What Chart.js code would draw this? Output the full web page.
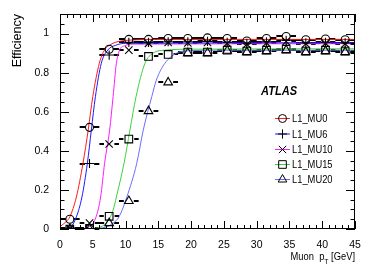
<!DOCTYPE html>
<html>
<head>
<meta charset="utf-8">
<script src="https://cdn.jsdelivr.net/npm/chart.js@4/dist/chart.umd.min.js"></script>
<style>
    html, body { margin: 0; padding: 0; background: #fff; }
    #wrap { width: 374px; height: 273px; }
</style>
</head>
<body>
<div id="wrap"><canvas id="eff-canvas" width="374" height="273"></canvas></div>
<script>
// bin centres (GeV) and half width of the horizontal error bars
var binCenters = [1.5, 4.5, 7.5, 10.5, 13.5, 16.5, 19.5, 22.5, 25.5, 28.5, 31.5, 34.5, 37.5, 40.5, 43.5];
var binHalfWidth = 1.5;

// measured efficiencies per trigger threshold
var effMU0  = [0.05, 0.52, 0.92, 0.97, 0.97, 0.975, 0.975, 0.978, 0.975, 0.962, 0.975, 0.985, 0.968, 0.972, 0.968];
var effMU6  = [0.003, 0.335, 0.89, 0.955, 0.955, 0.958, 0.958, 0.96, 0.955, 0.95, 0.958, 0.965, 0.952, 0.955, 0.952];
var effMU10 = [0.0, 0.03, 0.435, 0.915, 0.95, 0.955, 0.952, 0.955, 0.95, 0.945, 0.952, 0.96, 0.948, 0.95, 0.948];
var effMU15 = [0.0, 0.003, 0.065, 0.46, 0.883, 0.893, 0.905, 0.905, 0.915, 0.91, 0.915, 0.92, 0.91, 0.915, 0.91];
var effMU20 = [0.0, 0.0, 0.03, 0.143, 0.603, 0.75, 0.9, 0.9, 0.912, 0.905, 0.91, 0.915, 0.905, 0.91, 0.905];

// fitted turn-on curves
var fitMU0x  = [0, 0.5, 1.0, 1.5, 2.5, 3.5, 4.3, 5.0, 6.0, 6.8, 7.8, 9.0, 11, 15, 45];
var fitMU0y  = [0.012, 0.025, 0.04, 0.062, 0.164, 0.335, 0.506, 0.677, 0.848, 0.916, 0.945, 0.96, 0.967, 0.97, 0.97];
var fitMU6x  = [0, 1.0, 1.7, 2.5, 3.35, 4.17, 4.78, 5.4, 6.3, 7.3, 8.5, 10, 45];
var fitMU6y  = [0.0, 0.004, 0.012, 0.062, 0.164, 0.335, 0.506, 0.677, 0.848, 0.916, 0.94, 0.95, 0.953];
var fitMU10x = [0, 3.5, 4.5, 5.5, 6.2, 6.8, 7.57, 8.1, 8.6, 9.1, 9.9, 11, 45];
var fitMU10y = [0.0, 0.002, 0.012, 0.062, 0.164, 0.335, 0.506, 0.677, 0.848, 0.916, 0.938, 0.946, 0.948];
var fitMU15x = [0, 5, 7, 8.1, 8.6, 9.76, 10.67, 11.6, 12.96, 14.2, 16, 20, 45];
var fitMU15y = [0.0, 0.003, 0.03, 0.096, 0.164, 0.335, 0.506, 0.677, 0.848, 0.9, 0.915, 0.92, 0.922];
var fitMU20x = [0, 5, 7, 8.1, 9.0, 10.2, 11.7, 12.7, 14, 14.7, 16, 17.8, 19.5, 25, 45];
var fitMU20y = [0.0, 0.002, 0.01, 0.03, 0.062, 0.164, 0.335, 0.506, 0.677, 0.762, 0.848, 0.9, 0.912, 0.915, 0.915];

var seriesNames = ['L1_MU0', 'L1_MU6', 'L1_MU10', 'L1_MU15', 'L1_MU20'];
var seriesColors = ['#ff1a1a', '#1a1aff', '#ff1aff', '#3fd03f', '#6b6bff'];
var seriesMarkers = ['circle', 'cross', 'crossRot', 'rect', 'triangle'];
var markerSizes = [4, 4.6, 5.2, 5.4, 5];

var effs = [effMU0, effMU6, effMU10, effMU15, effMU20];
var fitsX = [fitMU0x, fitMU6x, fitMU10x, fitMU15x, fitMU20x];
var fitsY = [fitMU0y, fitMU6y, fitMU10y, fitMU15y, fitMU20y];

var FONT = "'Liberation Sans', Arial, Helvetica, sans-serif";

function pairs(xs, ys) {
    return xs.map(function (x, i) { return { x: x, y: ys[i] }; });
}

var datasets = [];
seriesNames.forEach(function (name, k) {
    datasets.push({
        label: name,
        isMarker: true,
        data: pairs(binCenters, effs[k]),
        showLine: false,
        pointStyle: seriesMarkers[k],
        pointRadius: markerSizes[k],
        pointBackgroundColor: 'rgba(0,0,0,0)',
        pointBorderColor: '#000',
        pointBorderWidth: 1.1,
        order: 1
    });
});
seriesNames.forEach(function (name, k) {
    datasets.push({
        label: name + ' fit',
        data: pairs(fitsX[k], fitsY[k]),
        showLine: true,
        borderColor: seriesColors[k],
        borderWidth: 1,
        pointRadius: 0,
        fill: false,
        cubicInterpolationMode: 'monotone',
        order: 2
    });
});

// horizontal bin-width bars, with a gap where the marker sits
var errorBars = {
    id: 'errorBars',
    beforeDatasetsDraw: function (chart) {
        var ctx = chart.ctx, xs = chart.scales.x, ys = chart.scales.y;
        ctx.save();
        ctx.strokeStyle = '#000';
        ctx.lineWidth = 2;
        ctx.beginPath();
        chart.data.datasets.forEach(function (ds) {
            if (!ds.isMarker) return;
            var gap = ds.pointRadius;
            ds.data.forEach(function (p) {
                var cx = xs.getPixelForValue(p.x);
                var y = Math.round(ys.getPixelForValue(p.y));
                var x0 = xs.getPixelForValue(p.x - binHalfWidth);
                var x1 = xs.getPixelForValue(p.x + binHalfWidth);
                ctx.moveTo(x0, y); ctx.lineTo(cx - gap, y);
                ctx.moveTo(cx + gap, y); ctx.lineTo(x1, y);
            });
        });
        ctx.stroke();
        ctx.restore();
    }
};

// ROOT-style frame with inward ticks on all four sides
var frameTicks = {
    id: 'frameTicks',
    afterDatasetsDraw: function (chart) {
        var ctx = chart.ctx, a = chart.chartArea, xs = chart.scales.x, ys = chart.scales.y;
        ctx.save();
        ctx.strokeStyle = '#000';
        ctx.lineWidth = 1;
        ctx.strokeRect(a.left + 0.5, a.top + 0.5, a.right - a.left - 1, a.bottom - a.top - 1);
        ctx.beginPath();
        for (var i = 0; i <= 45; i++) {
            var px = Math.round(xs.getPixelForValue(i)) + 0.5;
            var len = i % 5 === 0 ? 8 : 4;
            ctx.moveTo(px, a.bottom); ctx.lineTo(px, a.bottom - len);
            ctx.moveTo(px, a.top); ctx.lineTo(px, a.top + len);
        }
        for (var j = 0; j <= 22; j++) {
            var py = Math.round(ys.getPixelForValue(j * 0.05)) + 0.5;
            var l = j % 4 === 0 ? 9 : 4.5;
            ctx.moveTo(a.left, py); ctx.lineTo(a.left + l, py);
            ctx.moveTo(a.right, py); ctx.lineTo(a.right - l, py);
        }
        ctx.stroke();
        ctx.restore();
    }
};

// ATLAS label, legend and the x title with its subscript
var annotations = {
    id: 'annotations',
    afterDraw: function (chart) {
        var ctx = chart.ctx;
        var squeeze = 0.85;
        ctx.save();
        ctx.fillStyle = '#000';
        ctx.textBaseline = 'alphabetic';

        ctx.save();
        ctx.translate(261, 95);
        ctx.scale(squeeze, 1);
        ctx.font = 'italic bold 13px ' + FONT;
        ctx.fillText('ATLAS', 0, 0);
        ctx.restore();

        var rowY = [118, 133.5, 149, 164, 179];
        seriesNames.forEach(function (name, k) {
            var y = rowY[k];
            ctx.strokeStyle = seriesColors[k];
            ctx.lineWidth = 1;
            ctx.beginPath();
            ctx.moveTo(275, y + 0.5); ctx.lineTo(290, y + 0.5);
            ctx.stroke();
            ctx.strokeStyle = '#000';
            ctx.fillStyle = 'rgba(0,0,0,0)';
            Chart.helpers.drawPoint(ctx, {
                pointStyle: seriesMarkers[k],
                radius: markerSizes[k],
                rotation: 0,
                borderWidth: 1.1
            }, 282.5, y + 0.5);
            ctx.fillStyle = '#000';
            ctx.save();
            ctx.translate(292, y + 4);
            ctx.scale(squeeze, 1);
            ctx.font = '11px ' + FONT;
            ctx.fillText(name, 0, 0);
            ctx.restore();
        });

        ctx.save();
        ctx.font = '11px ' + FONT;
        var w1 = ctx.measureText('Muon  p').width;
        ctx.font = '8px ' + FONT;
        var w2 = ctx.measureText('T').width;
        ctx.font = '11px ' + FONT;
        var w3 = ctx.measureText(' [GeV]').width;
        var total = (w1 + w2 + w3) * squeeze;
        ctx.translate(355 - total, 260);
        ctx.scale(squeeze, 1);
        ctx.fillText('Muon  p', 0, 0);
        ctx.font = '8px ' + FONT;
        ctx.fillText('T', w1, 4);
        ctx.font = '11px ' + FONT;
        ctx.fillText(' [GeV]', w1 + w2, 0);
        ctx.restore();

        ctx.restore();
    }
};

new Chart(document.getElementById('eff-canvas'), {
    type: 'scatter',
    data: { datasets: datasets },
    plugins: [errorBars, frameTicks, annotations],
    options: {
        responsive: false,
        animation: false,
        devicePixelRatio: 1,
        layout: { padding: { top: 14, right: 19, left: 0, bottom: 0 } },
        plugins: {
            legend: { display: false },
            tooltip: { enabled: false }
        },
        scales: {
            x: {
                type: 'linear',
                min: 0,
                max: 45,
                grid: { display: false },
                border: { display: false },
                ticks: {
                    stepSize: 5,
                    autoSkip: false,
                    maxRotation: 0,
                    padding: 2,
                    color: '#000',
                    font: { family: FONT, size: 10.5 }
                },
                afterFit: function (s) { s.height = 44; }
            },
            y: {
                type: 'linear',
                min: 0,
                max: 1.1,
                grid: { display: false },
                border: { display: false },
                ticks: {
                    stepSize: 0.2,
                    includeBounds: false,
                    padding: 3,
                    color: '#000',
                    font: { family: FONT, size: 10.5 },
                    callback: function (v) {
                        if (Math.abs(v) < 1e-9) return '0';
                        if (Math.abs(v - 1) < 1e-9) return '1';
                        return v.toFixed(1);
                    }
                },
                title: {
                    display: true,
                    text: 'Efficiency',
                    align: 'end',
                    color: '#000',
                    padding: { top: 10, bottom: 0 },
                    font: { family: FONT, size: 12.5 }
                },
                afterFit: function (s) { s.width = 60; }
            }
        }
    }
});
</script>
</body>
</html>
